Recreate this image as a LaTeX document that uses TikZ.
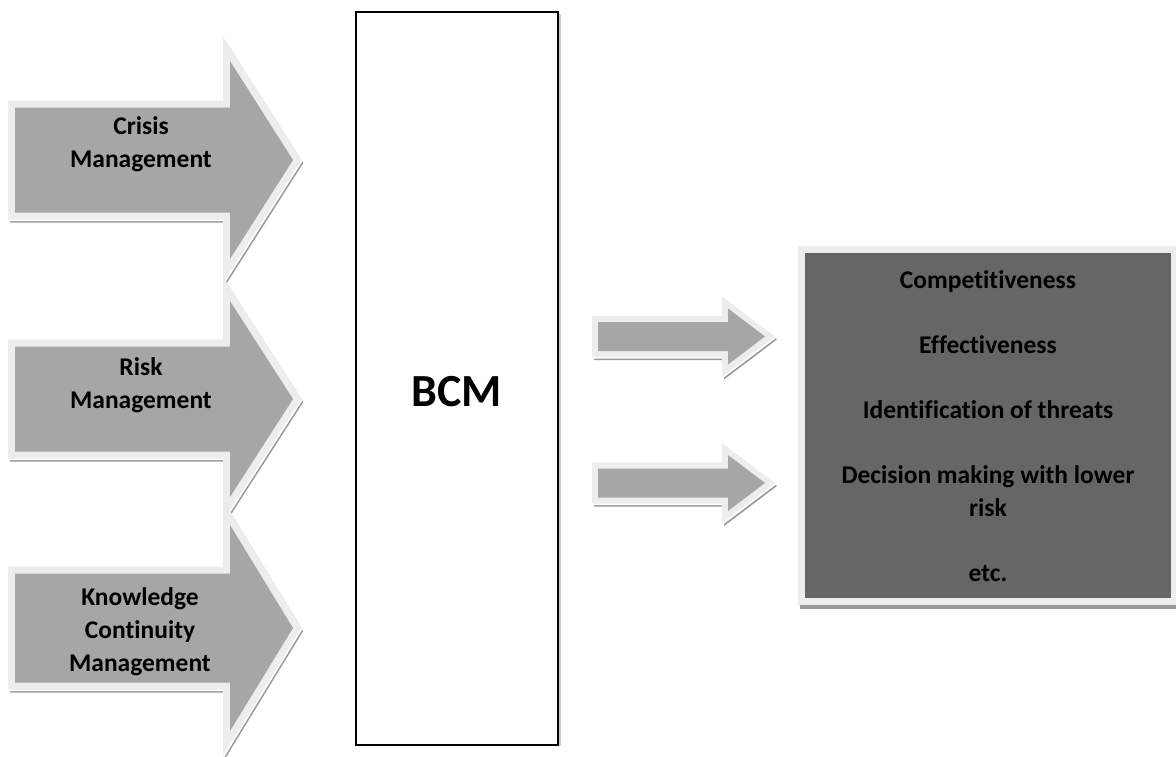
\documentclass[tikz,border=0pt]{standalone}
\usepackage{fontspec}
\setmainfont[Ligatures={NoCommon}]{Carlito}
\definecolor{arrowfill}{HTML}{A6A6A6}
\definecolor{rim}{HTML}{EDEDED}
\definecolor{shadowgray}{HTML}{9A9A9A}
\definecolor{boxfill}{HTML}{666666}
% #1 left x, #2 shaft end x, #3 tip x, #4 centre y, #5 half shaft, #6 half head
\newcommand\arrowpath[6]{(#1,#4-#5)--(#2,#4-#5)--(#2,#4-#6)--(#3,#4)--(#2,#4+#6)--(#2,#4+#5)--(#1,#4+#5)--cycle}
\newcommand\blockarrow[7]{%
  \draw[draw=shadowgray, line width=#7, fill=shadowgray, line join=miter, shift={(2,3)}] \arrowpath{#1}{#2}{#3}{#4}{#5}{#6};
  \draw[draw=white, line width=#7, fill=white, line join=miter, shift={(1,1.5)}] \arrowpath{#1}{#2}{#3}{#4}{#5}{#6};
  \draw[draw=rim, line width=#7, fill=rim, line join=miter] \arrowpath{#1}{#2}{#3}{#4}{#5}{#6};
  \fill[arrowfill] \arrowpath{#1}{#2}{#3}{#4}{#5}{#6};}
\tikzset{
  lefttext/.style={align=center, font=\fontsize{25.5}{33}\selectfont\bfseries, inner sep=0pt},
  righttext/.style={align=center, font=\fontsize{25.5}{32.5}\selectfont\bfseries, inner sep=0pt},
}
\begin{document}
\begin{tikzpicture}[x=1pt,y=-1pt]
\useasboundingbox (0,0) rectangle (1176,756);
% left arrows
\blockarrow{15}{230}{293}{160}{52.5}{99}{14}
\blockarrow{15}{230}{293}{399}{52.5}{98}{14}
\blockarrow{15}{230}{293}{628}{54.5}{103}{14}
\node[lefttext] (crisis) at (141,144) {Crisis\\Management};
\node[lefttext] (risk) at (141,385) {Risk\\Management};
\node[lefttext] (kcm) at (140,632) {Knowledge\\Continuity\\Management};
% BCM box
\draw[gray!40, line width=2pt] (559.5,14) -- (559.5,746);
\node[draw=black, line width=2pt, fill=white, minimum width=202pt, minimum height=733pt, inner sep=0pt] (bcmbox) at (457,378.5) {};
\node[font=\fontsize{46}{50}\selectfont\bfseries, inner sep=0pt] (bcm) at (457,392) {BCM};
% small arrows
\blockarrow{598}{728}{765}{336.5}{14.5}{28}{12}
\blockarrow{598}{728}{765}{483}{14.5}{28}{12}
% outcome box
\fill[shadowgray] (800,605) rectangle (1176,609);
\fill[rim] (798,246) rectangle (1176,605);
\fill[boxfill] (805,253) rectangle (1171,598);
\node[righttext] (out) at (988,426) {Competitiveness\\[32.5pt]Effectiveness\\[32.5pt]Identification of threats\\[32.5pt]Decision making with lower\\risk\\[32.5pt]etc.};
\end{tikzpicture}
\end{document}
